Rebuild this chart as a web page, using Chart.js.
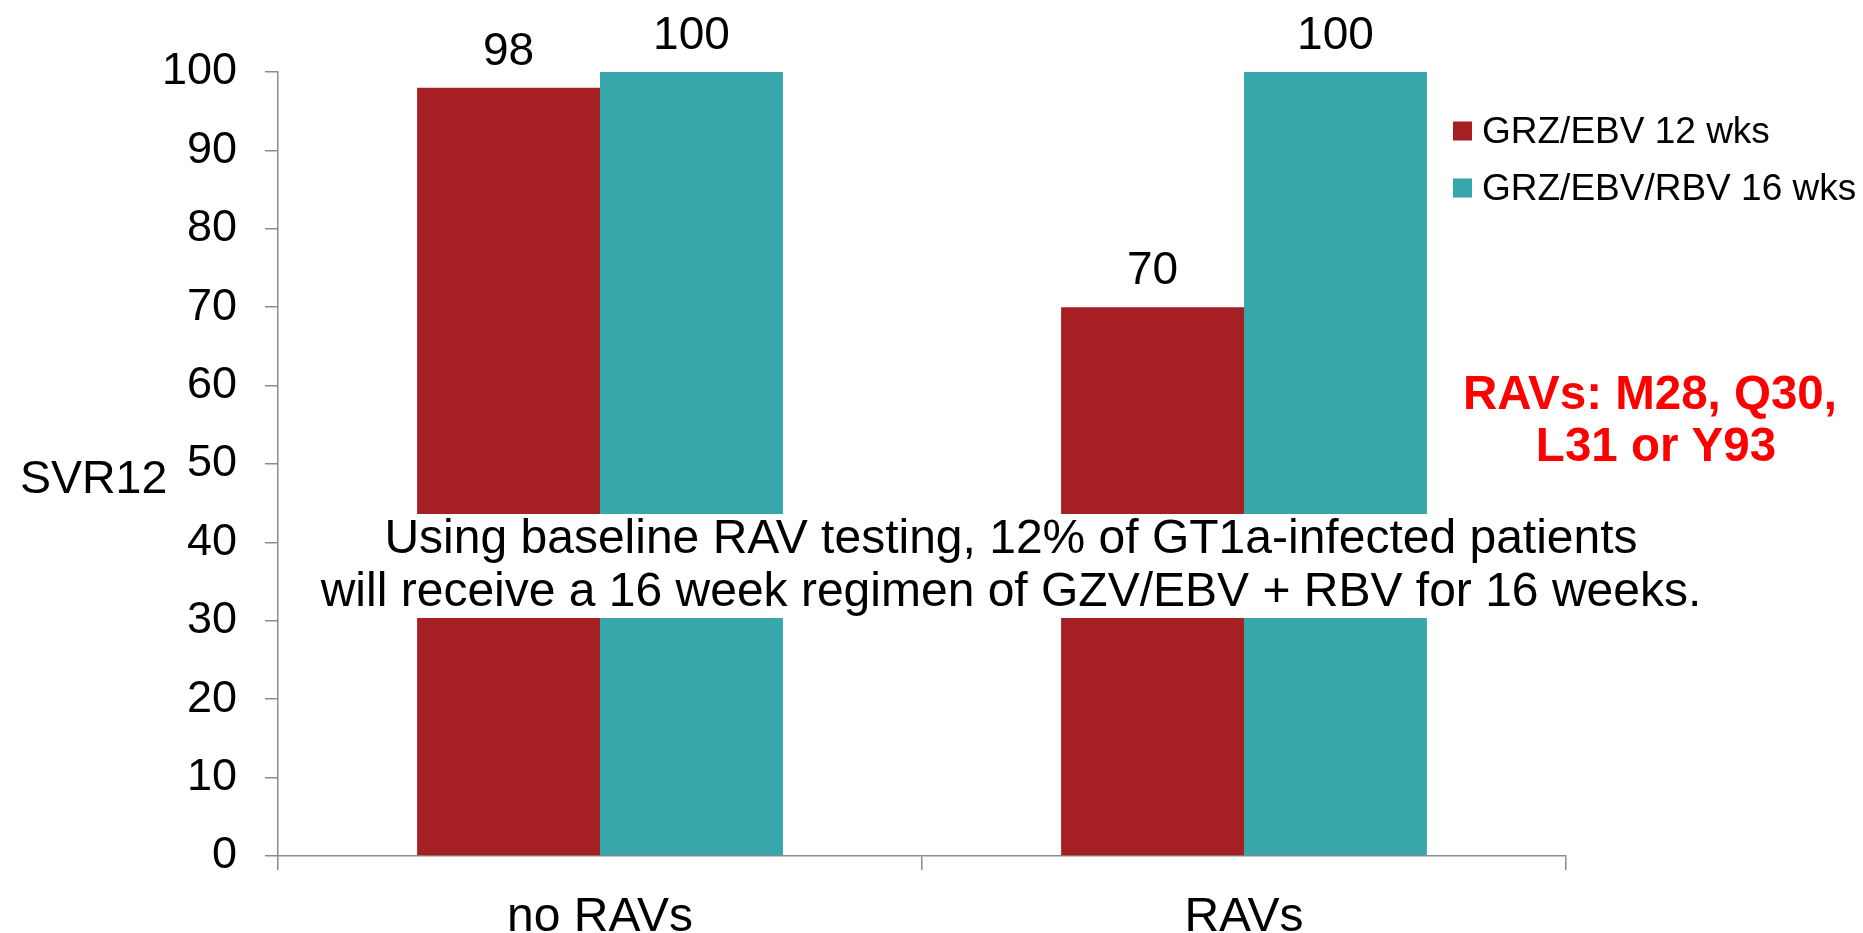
<!DOCTYPE html>
<html>
<head>
<meta charset="utf-8">
<title>SVR12 by baseline RAVs</title>
<script src="https://cdn.jsdelivr.net/npm/chart.js@4.4.1/dist/chart.umd.min.js"></script>
<style>
    html, body { margin: 0; padding: 0; background: #fff; }
    #wrap { width: 1863px; height: 933px; position: relative; }
</style>
</head>
<body>
<div id="wrap"><canvas id="svrChart"></canvas></div>
<script>
// --- DATA ---
const categories = ['no RAVs', 'RAVs'];
const seriesNames = ['GRZ/EBV 12 wks', 'GRZ/EBV/RBV 16 wks'];
const grzEbv12 = [98, 70];
const grzEbvRbv16 = [100, 100];
const yMin = 0;
const yMax = 100;
const yStep = 10;
const axisTitle = 'SVR12';
const noteLines = [
    'Using baseline RAV testing, 12% of GT1a-infected patients',
    'will receive a 16 week regimen of GZV/EBV + RBV for 16 weeks.'
];
const ravLines = ['RAVs: M28, Q30,', 'L31 or Y93'];

// --- STYLE ---
const FONT = "'Liberation Sans', Arial, sans-serif";
const RED = '#a61f23';
const TEAL = '#37a7ab';
const AXIS = '#8c8c8c';
Chart.defaults.font.family = FONT;
Chart.defaults.color = '#000';

// --- EXTRAS (labels, note, legend) ---
const extras = {
    id: 'extras',
    afterDatasetsDraw(chart) {
        const ctx = chart.ctx;
        ctx.save();

        // value labels above bars
        ctx.font = '46px ' + FONT;
        ctx.fillStyle = '#000';
        ctx.textAlign = 'center';
        ctx.textBaseline = 'alphabetic';
        chart.data.datasets.forEach((ds, i) => {
            chart.getDatasetMeta(i).data.forEach((bar, j) => {
                ctx.fillText(ds.data[j], bar.x, bar.y - 23);
            });
        });

        // white box with the note over the bars
        ctx.fillStyle = '#fff';
        ctx.fillRect(300, 514, 1420, 104);
        ctx.fillStyle = '#000';
        ctx.font = '48px ' + FONT;
        ctx.fillText(noteLines[0], 1011, 553);
        ctx.fillText(noteLines[1], 1011, 606);
        ctx.restore();
    },
    afterDraw(chart) {
        const ctx = chart.ctx;
        ctx.save();

        // axis title, not rotated
        ctx.font = '46.5px ' + FONT;
        ctx.fillStyle = '#000';
        ctx.textAlign = 'left';
        ctx.textBaseline = 'alphabetic';
        ctx.fillText(axisTitle, 20, 493);

        // legend
        ctx.font = '37px ' + FONT;
        ctx.textBaseline = 'middle';
        chart.data.datasets.forEach((ds, i) => {
            const cy = 131 + i * 57;
            ctx.fillStyle = ds.backgroundColor;
            ctx.fillRect(1453, cy - 9.5, 19, 19);
            ctx.fillStyle = '#000';
            ctx.fillText(ds.label, 1482, cy + 2);
        });

        // red RAV note
        ctx.font = 'bold 47.5px ' + FONT;
        ctx.fillStyle = '#ff0000';
        ctx.textAlign = 'center';
        ctx.textBaseline = 'alphabetic';
        ctx.fillText(ravLines[0], 1650, 409);
        ctx.fillText(ravLines[1], 1656, 461);
        ctx.restore();
    }
};

// --- CHART ---
const ctx = document.getElementById('svrChart').getContext('2d');
const chartInstance = new Chart(ctx, {
    type: 'bar',
    data: {
        labels: categories,
        datasets: [
            { label: seriesNames[0], data: grzEbv12, backgroundColor: RED },
            { label: seriesNames[1], data: grzEbvRbv16, backgroundColor: TEAL }
        ]
    },
    options: {
        responsive: true,
        maintainAspectRatio: false,
        animation: false,
        devicePixelRatio: 1,
        categoryPercentage: 0.568,
        barPercentage: 1.0,
        layout: { padding: { top: 72, right: 297, left: 0, bottom: 0 } },
        plugins: {
            legend: { display: false },
            tooltip: { enabled: false }
        },
        scales: {
            x: {
                grid: {
                    offset: true,
                    drawOnChartArea: false,
                    drawTicks: true,
                    tickLength: 14,
                    color: AXIS,
                    lineWidth: 1.5
                },
                border: { color: AXIS, width: 1.5 },
                ticks: { font: { size: 48 }, padding: 19, color: '#000' },
                afterFit: (scale) => { scale.height = 77; }
            },
            y: {
                min: yMin,
                max: yMax,
                grid: {
                    drawOnChartArea: false,
                    drawTicks: true,
                    tickLength: 13,
                    color: AXIS,
                    lineWidth: 1.5
                },
                border: { color: AXIS, width: 1.5 },
                ticks: { stepSize: yStep, font: { size: 45 }, padding: 28, color: '#000' },
                afterFit: (scale) => { scale.width = 278; }
            }
        }
    },
    plugins: [extras]
});
</script>
</body>
</html>
